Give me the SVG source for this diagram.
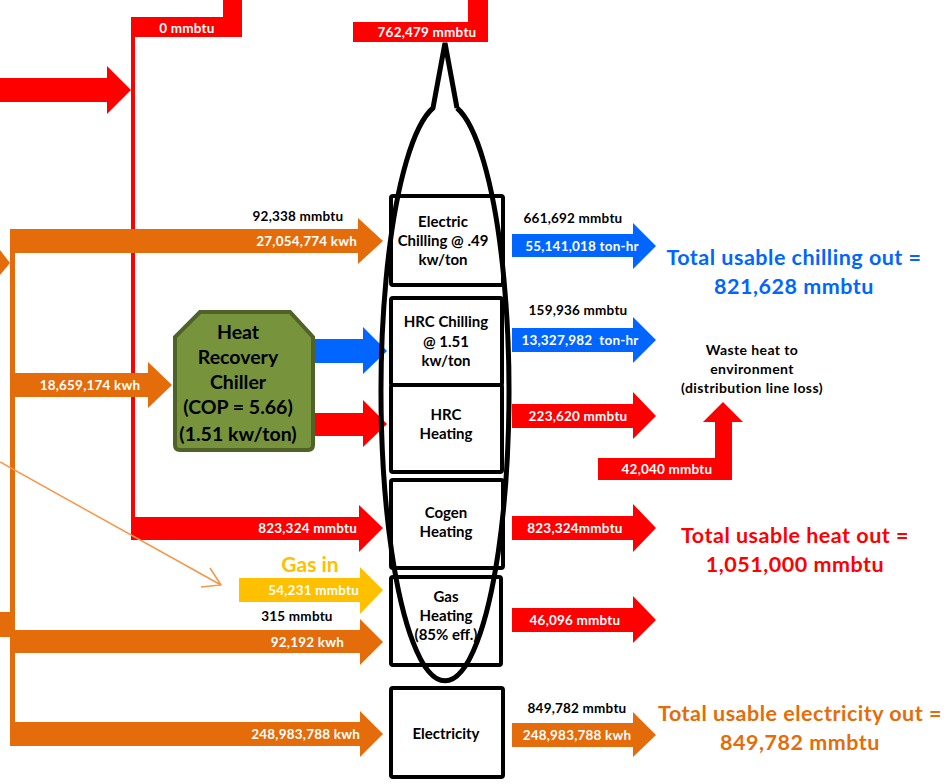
<svg xmlns="http://www.w3.org/2000/svg" width="951" height="784" viewBox="0 0 951 784">
  <style>
    text { font-family: Lato, "Liberation Sans", sans-serif; font-weight: bold; }
    .lbl { font-size: 13.5px; letter-spacing: 0.2px; }
    .w { fill: #ffffff; }
    .k { fill: #000000; }
    .mid { text-anchor: middle; }
    .end { text-anchor: end; }
    .box { fill: #ffffff; stroke: #000000; stroke-width: 4; }
    .btxt { font-size: 15px; fill: #000000; text-anchor: middle; }
    .red { fill: #ff0000; }
    .org { fill: #e46c0a; }
    .blu { fill: #0066ff; }
    .gld { fill: #ffc000; }
    .big { font-size: 21.5px; letter-spacing: 0.5px; text-anchor: middle; }
    .note { font-size: 14px; letter-spacing: 0.4px; fill: #000000; text-anchor: middle; }
  </style>

  <!-- flows -->
  <g id="connectors">
    <!-- steam / heat feed (red) -->
    <polygon class="red" points="131,17 223,17 223,0 242,0 242,37 131,37"/>
    <rect class="red" x="131" y="17" width="4" height="523"/>
    <polygon class="red" points="0,78 107,78 107,66 131,90 107,114 107,102 0,102"/>
    <polygon class="red" points="353,22 468,22 468,0 488,0 488,42 353,42"/>
    <polygon class="red" points="131,517 359,517 359,505 383,528 359,552 359,540 131,540"/>

    <!-- electricity feed (orange) -->
    <polygon class="org" points="0,250 10,263 0,275"/>
    <rect class="org" x="0" y="612" width="12" height="25"/>
    <rect class="org" x="10" y="229" width="5" height="517"/>
    <polygon class="org" points="11,229 358,229 358,218 383,241 358,264 358,253 11,253"/>
    <polygon class="org" points="15,373 148,373 148,362 172,385 148,408 148,397 15,397"/>
    <polygon class="org" points="15,630 360,630 360,619 383,642 360,665 360,653 15,653"/>
    <polygon class="org" points="10,722 360,722 360,711 383,734 360,757 360,746 10,746"/>

    <!-- gas feed -->
    <polygon class="gld" points="239,578 360,578 360,567 383,590 360,614 360,602 239,602"/>
    <path d="M0,462 L221,585 M210,568 L221,585 L201,587" fill="none" stroke="#f79646" stroke-width="1.5"/>

    <!-- heat recovery chiller outputs -->
    <polygon class="blu" points="315,339 363,339 363,327 387,351 363,374 363,363 315,363"/>
    <polygon class="red" points="315,413 363,413 363,400 387,424 363,447 363,436 315,436"/>

    <!-- outputs -->
    <polygon class="blu" points="512,234 633,234 633,223 656,246 633,269 633,257 512,257"/>
    <polygon class="blu" points="512,328 633,328 633,317 656,340 633,363 633,352 512,352"/>
    <polygon class="red" points="512,404 633,404 633,392 656,416 633,439 633,428 512,428"/>
    <polygon class="red" points="598,458 715,458 715,422 703,422 723,402 743,422 732,422 732,480 598,480"/>
    <polygon class="red" points="512,516 633,516 633,504 656,528 633,552 633,540 512,540"/>
    <polygon class="red" points="512,608 633,608 633,596 656,620 633,643 633,632 512,632"/>
    <polygon class="org" points="512,723 633,723 633,712 656,735 633,757 633,747 512,747"/>

    <!-- flow labels -->
    <text class="lbl w mid" x="187" y="33">0 mmbtu</text>
    <text class="lbl w mid" x="427" y="37">762,479 mmbtu</text>
    <text class="lbl k mid" x="298" y="221">92,338 mmbtu</text>
    <text class="lbl w end" x="357" y="246">27,054,774 kwh</text>
    <text class="lbl w mid" x="90" y="390">18,659,174 kwh</text>
    <text class="lbl w end" x="357" y="533">823,324 mmbtu</text>
    <text x="310" y="572" text-anchor="middle" font-size="21" fill="#ffc000">Gas in</text>
    <text class="lbl w end" x="359" y="595">54,231 mmbtu</text>
    <text class="lbl k mid" x="297" y="621">315 mmbtu</text>
    <text class="lbl w end" x="344" y="647">92,192 kwh</text>
    <text class="lbl w end" x="360" y="739">248,983,788 kwh</text>

    <text class="lbl k mid" x="573" y="223">661,692 mmbtu</text>
    <text class="lbl w mid" x="582" y="251">55,141,018 ton-hr</text>
    <text class="lbl k mid" x="578" y="315">159,936 mmbtu</text>
    <text class="lbl w mid" x="580" y="345" xml:space="preserve">13,327,982  ton-hr</text>
    <text class="lbl w mid" x="578" y="421">223,620 mmbtu</text>
    <text class="lbl w mid" x="667" y="474">42,040 mmbtu</text>
    <text class="lbl w mid" x="575" y="533">823,324mmbtu</text>
    <text class="lbl w mid" x="575" y="625">46,096 mmbtu</text>
    <text class="lbl k mid" x="577" y="713">849,782 mmbtu</text>
    <text class="lbl w mid" x="577" y="740">248,983,788 kwh</text>
  </g>

  <!-- heat recovery chiller -->
  <g id="hrc">
    <path d="M200,312 L290,312 L313,337 L313,445 Q313,450 308,450 L180,450 Q175,450 175,445 L175,337 Z" fill="#77933c" stroke="#4f6228" stroke-width="4"/>
    <g font-size="19.5" fill="#000000" text-anchor="middle">
      <text x="238" y="339">Heat</text>
      <text x="238" y="364">Recovery</text>
      <text x="238" y="389">Chiller</text>
      <text x="238" y="414">(COP = 5.66)</text>
      <text x="238" y="441">(1.51 kw/ton)</text>
    </g>
  </g>

  <!-- plant units -->
  <g id="electric-chilling">
    <rect class="box" x="391" y="196" width="112" height="89" rx="2"/>
    <text class="btxt" x="443" y="227">Electric</text>
    <text class="btxt" x="443" y="246">Chilling @ .49</text>
    <text class="btxt" x="443" y="265">kw/ton</text>
  </g>
  <g id="hrc-chilling">
    <rect class="box" x="391" y="298" width="111" height="87" rx="2"/>
    <text class="btxt" x="446" y="327">HRC Chilling</text>
    <text class="btxt" x="446" y="347">@ 1.51</text>
    <text class="btxt" x="446" y="366">kw/ton</text>
  </g>
  <g id="hrc-heating">
    <rect class="box" x="391" y="385" width="111" height="87" rx="2"/>
    <text class="btxt" x="446" y="420">HRC</text>
    <text class="btxt" x="446" y="439">Heating</text>
  </g>
  <g id="cogen-heating">
    <rect class="box" x="391" y="480" width="112" height="88" rx="2"/>
    <text class="btxt" x="446" y="518">Cogen</text>
    <text class="btxt" x="446" y="537">Heating</text>
  </g>
  <g id="gas-heating">
    <rect class="box" x="391" y="577" width="110" height="88" rx="2"/>
    <text class="btxt" x="446" y="602">Gas</text>
    <text class="btxt" x="446" y="621">Heating</text>
    <text class="btxt" x="446" y="640">(85% eff.)</text>
  </g>
  <g id="electricity">
    <rect class="box" x="391" y="688" width="112" height="89" rx="2"/>
    <text class="btxt" x="446" y="739">Electricity</text>
  </g>

  <!-- cogeneration envelope -->
  <g id="cogen-envelope">
    <path d="M457,108 L445,43 L433,108 A64,289 0 1,0 457,108" fill="none" stroke="#000000" stroke-width="5" stroke-linejoin="miter"/>
  </g>

  <!-- totals -->
  <g id="totals">
    <text class="big blu" x="794" y="265">Total usable chilling out =</text>
    <text class="big blu" x="794" y="294">821,628 mmbtu</text>
    <text class="big red" x="795" y="543">Total usable heat out =</text>
    <text class="big red" x="795" y="572">1,051,000 mmbtu</text>
    <text class="big org" x="800" y="721">Total usable electricity out =</text>
    <text class="big org" x="800" y="750">849,782 mmbtu</text>
  </g>

  <g id="waste-heat">
    <text class="note" x="752" y="355">Waste heat to</text>
    <text class="note" x="752" y="374">environment</text>
    <text class="note" x="752" y="393">(distribution line loss)</text>
  </g>
</svg>
